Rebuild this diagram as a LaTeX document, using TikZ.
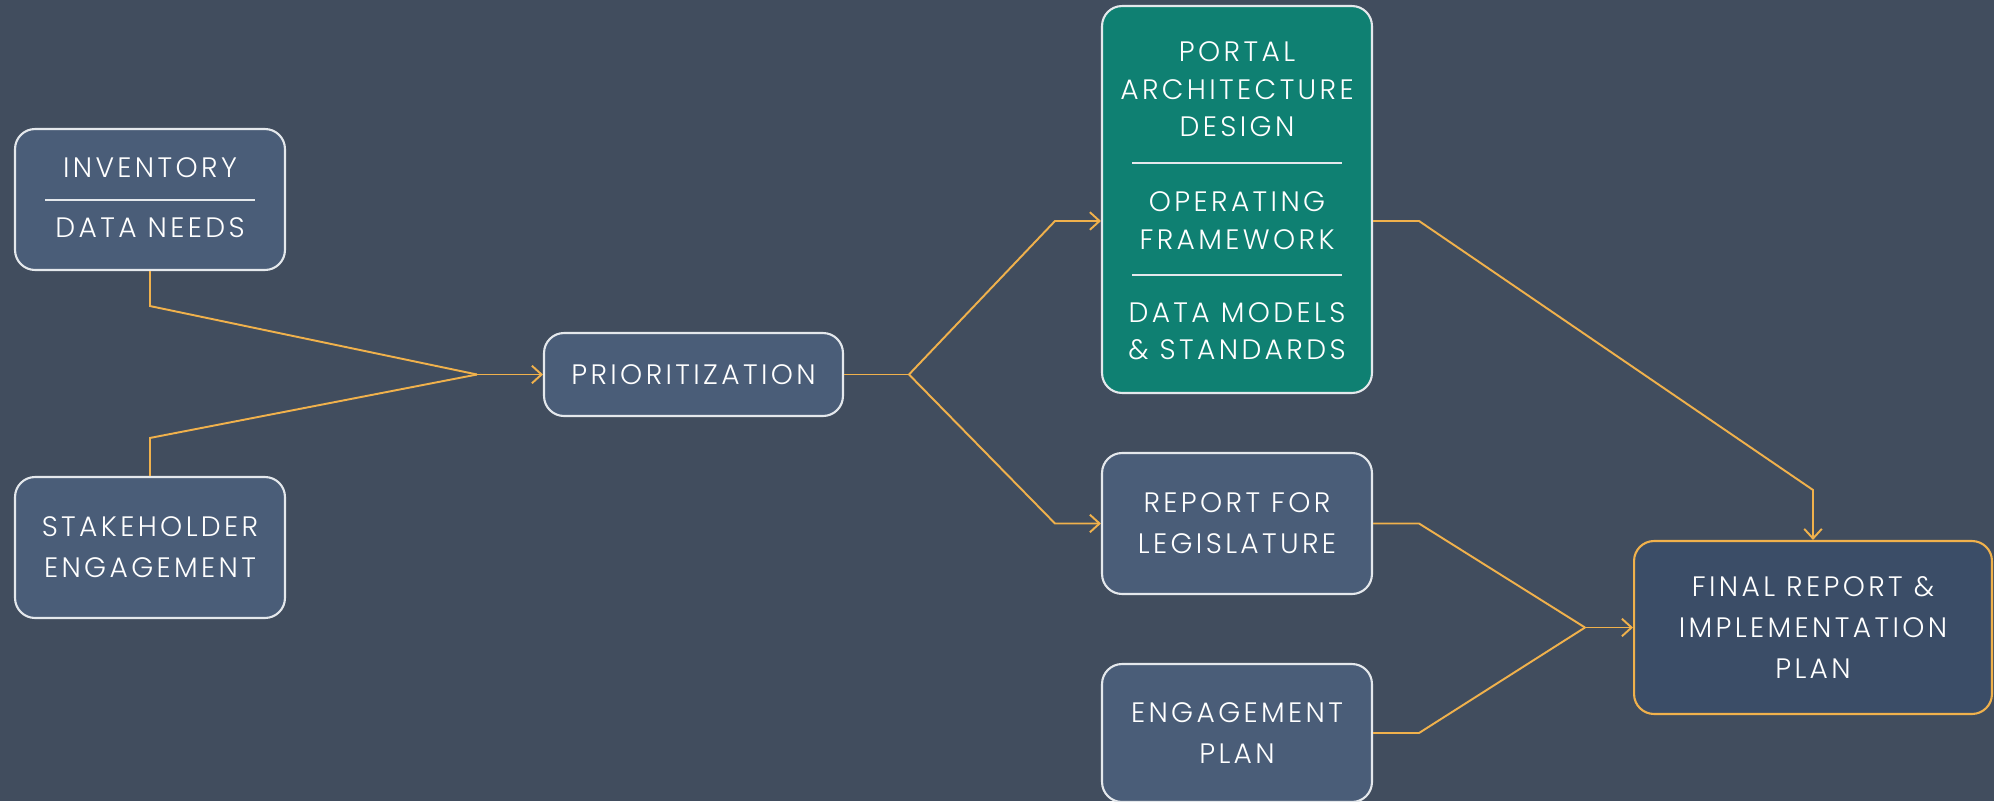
\documentclass[tikz,border=0pt]{standalone}
\usepackage{fontspec}
\setmainfont{Poppins}[UprightFont=* Light,LetterSpace=12]
\usetikzlibrary{arrows.meta}

\definecolor{slatebg}{HTML}{414D5E}
\definecolor{boxfill}{HTML}{4A5D78}
\definecolor{tealfill}{HTML}{0F8072}
\definecolor{finalfill}{HTML}{3B4D67}
\definecolor{linkorange}{HTML}{F0B14C}
\definecolor{edgewhite}{HTML}{E4E8EC}

\begin{document}
\begin{tikzpicture}[x=0.02cm,y=-0.02cm,
  stage/.style={draw=edgewhite,line width=1.2pt,fill=boxfill,rounded corners=0.4cm,
    minimum width=5.4cm,minimum height=2.82cm,inner sep=0pt},
  words/.style={text=white,align=center,font=\fontsize{16}{23.3}\selectfont},
  tightwords/.style={words,font=\fontsize{16}{21.3}\selectfont},
  divider/.style={edgewhite,line width=1.1pt},
  link/.style={linkorange,line width=1.1pt},
  arrowlink/.style={link,-{Straight Barb[length=5.5pt,width=10pt]}}]

% backdrop
\useasboundingbox (0,0) rectangle (1994,801);
\fill[slatebg] (0,0) rectangle (1994,801);

% inputs
\node[stage] (inv) at (150,199.5) {};
\node[words] (inv-top) at (150,168) {INVENTORY};
\node[words] (inv-bot) at (150,228) {DATA NEEDS};
\draw[divider] (45,200) -- (255,200);

\node[stage,words] (stake) at (150,547.5) {STAKEHOLDER\\ENGAGEMENT};

% middle step
\node[stage,words,minimum width=5.98cm,minimum height=1.66cm] (prio) at (693.5,374.5) {PRIORITIZATION};

% outputs
\node[stage,fill=tealfill,minimum height=7.74cm] (portal) at (1237,199.5) {};
\node[tightwords] (portal-a) at (1237,89.5) {PORTAL\\ARCHITECTURE\\DESIGN};
\node[tightwords] (portal-b) at (1237,220.5) {OPERATING\\FRAMEWORK};
\node[tightwords] (portal-c) at (1237,331) {DATA MODELS\\\& STANDARDS};
\foreach \y in {163,275}
  \draw[divider] (1132,\y) -- (1342,\y);

\node[stage,words] (report) at (1237,523.5) {REPORT FOR\\LEGISLATURE};
\node[stage,words,minimum height=2.76cm] (engage) at (1237,733) {ENGAGEMENT\\PLAN};

\node[stage,words,draw=linkorange,fill=finalfill,minimum width=7.16cm,minimum height=3.46cm]
  (final) at (1813,627.5) {FINAL REPORT \&\\IMPLEMENTATION\\PLAN};

% connectors
\coordinate (inmerge) at (477,374.5);
\coordinate (split) at (909,374.5);
\coordinate (outmerge) at (1585,627.5);

\draw[link] (inv.south) -- ++(0,35) -- (inmerge);
\draw[link] (stake.north) -- ++(0,-38) -- (inmerge);
\draw[arrowlink] (inmerge) -- (prio.west);

\draw[link] (prio.east) -- (split);
\draw[arrowlink] (split) -- (1055,221) -- ([yshift=-0.43cm]portal.west);
\draw[arrowlink] (split) -- (1055,523.5) -- (report.west);

\draw[arrowlink] ([yshift=-0.43cm]portal.east) -- ++(46,0) -- ([yshift=1cm]final.north) -- (final.north);
\draw[link] (report.east) -- ++(46,0) -- (outmerge);
\draw[link] (engage.east) -- ++(46,0) -- (outmerge);
\draw[arrowlink] (outmerge) -- (final.west);

\end{tikzpicture}
\end{document}
